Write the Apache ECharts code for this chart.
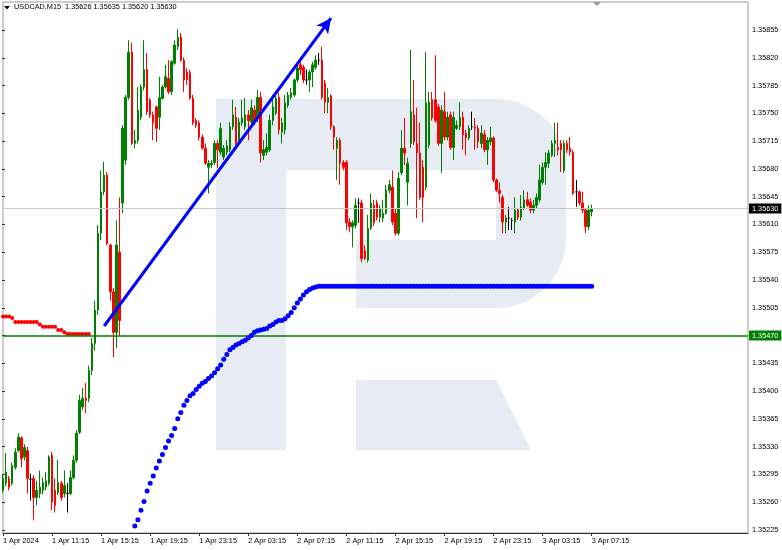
<!DOCTYPE html>
<html><head><meta charset="utf-8">
<script src="https://cdn.jsdelivr.net/npm/echarts@6/dist/echarts.min.js"></script>
<style>html,body{margin:0;padding:0;background:#fff;overflow:hidden}#c{width:782px;height:550px}</style>
</head><body><div id="c"></div>
<script>
// ---------------- data ----------------
const symbolTitle = 'USDCAD,M15';
const lastQuote = [1.35626, 1.35635, 1.35620, 1.35630]; // O H L C of last bar
const timeTickLabels = ['1 Apr 2024','1 Apr 11:15','1 Apr 15:15','1 Apr 19:15','1 Apr 23:15','2 Apr 03:15','2 Apr 07:15','2 Apr 11:15','2 Apr 15:15','2 Apr 19:15','2 Apr 23:15','3 Apr 03:15','3 Apr 07:15'];
const barsPerTimeTick = 16;
const priceAxisMin = 1.35225, priceAxisMax = 1.35855, priceAxisStep = 0.00035;
const viewLow = 1.352212, viewHigh = 1.358902;
const totalSlots = 244;

const opens = [
1.35275,1.35284,1.35290,1.35284,1.35304,1.35325,1.35341,1.35317,1.35325,1.35289,
1.35290,1.35266,1.35271,1.35275,1.35279,1.35284,1.35319,1.35275,1.35272,1.35284,
1.35271,1.35271,1.35271,1.35291,1.35313,1.35348,1.35380,1.35391,1.35391,1.35426,
1.35460,1.35502,1.35599,1.35651,1.35672,1.35584,1.35525,1.35474,1.35575,1.35637,
1.35691,1.35770,1.35827,1.35712,1.35716,1.35745,1.35783,1.35805,1.35767,1.35748,
1.35758,1.35745,1.35769,1.35783,1.35794,1.35777,1.35813,1.35834,1.35846,1.35817,
1.35802,1.35801,1.35769,1.35741,1.35738,1.35720,1.35706,1.35682,1.35685,1.35688,
1.35712,1.35701,1.35695,1.35701,1.35704,1.35733,1.35745,1.35714,1.35738,1.35733,
1.35748,1.35739,1.35754,1.35744,1.35770,1.35697,1.35701,1.35704,1.35741,1.35750,
1.35770,1.35726,1.35729,1.35760,1.35770,1.35773,1.35792,1.35811,1.35808,1.35792,
1.35792,1.35802,1.35808,1.35817,1.35817,1.35788,1.35764,1.35772,1.35733,1.35706,
1.35716,1.35688,1.35688,1.35613,1.35607,1.35609,1.35637,1.35637,1.35577,1.35565,
1.35605,1.35634,1.35637,1.35619,1.35618,1.35624,1.35653,1.35657,1.35624,1.35599,
1.35675,1.35706,1.35663,1.35712,1.35748,1.35712,1.35700,1.35682,1.35657,1.35710,
1.35767,1.35767,1.35758,1.35712,1.35752,1.35720,1.35748,1.35707,1.35731,1.35733,
1.35745,1.35725,1.35719,1.35733,1.35733,1.35731,1.35712,1.35723,1.35704,1.35714,
1.35719,1.35666,1.35653,1.35644,1.35613,1.35618,1.35615,1.35613,1.35628,1.35619,
1.35630,1.35641,1.35638,1.35628,1.35634,1.35641,1.35663,1.35682,1.35687,1.35697,
1.35712,1.35707,1.35712,1.35678,1.35712,1.35706,1.35701,1.35651,1.35651,1.35637,
1.35628,1.35607,1.35626];
const closes = [
1.35290,1.35298,1.35279,1.35306,1.35323,1.35342,1.35315,1.35329,1.35290,1.35289,
1.35266,1.35275,1.35279,1.35285,1.35287,1.35317,1.35260,1.35256,1.35285,1.35266,
1.35281,1.35271,1.35291,1.35313,1.35347,1.35388,1.35391,1.35388,1.35426,1.35460,
1.35502,1.35599,1.35651,1.35672,1.35586,1.35525,1.35474,1.35584,1.35489,1.35731,
1.35770,1.35827,1.35712,1.35716,1.35754,1.35783,1.35805,1.35752,1.35748,1.35738,
1.35731,1.35770,1.35783,1.35796,1.35777,1.35815,1.35836,1.35846,1.35817,1.35792,
1.35792,1.35769,1.35738,1.35735,1.35720,1.35706,1.35687,1.35687,1.35687,1.35712,
1.35704,1.35731,1.35706,1.35709,1.35733,1.35748,1.35712,1.35739,1.35744,1.35748,
1.35741,1.35757,1.35739,1.35770,1.35700,1.35704,1.35707,1.35741,1.35758,1.35769,
1.35729,1.35738,1.35763,1.35773,1.35776,1.35792,1.35807,1.35805,1.35792,1.35792,
1.35802,1.35811,1.35817,1.35817,1.35770,1.35764,1.35770,1.35733,1.35720,1.35716,
1.35687,1.35682,1.35612,1.35607,1.35612,1.35634,1.35637,1.35567,1.35567,1.35605,
1.35637,1.35612,1.35619,1.35630,1.35624,1.35653,1.35660,1.35613,1.35599,1.35668,
1.35706,1.35700,1.35687,1.35752,1.35714,1.35700,1.35644,1.35644,1.35763,1.35764,
1.35744,1.35741,1.35712,1.35754,1.35720,1.35745,1.35707,1.35745,1.35735,1.35745,
1.35723,1.35719,1.35731,1.35733,1.35731,1.35714,1.35725,1.35704,1.35716,1.35719,
1.35666,1.35653,1.35649,1.35613,1.35618,1.35618,1.35615,1.35628,1.35619,1.35632,
1.35641,1.35634,1.35628,1.35634,1.35644,1.35666,1.35682,1.35688,1.35700,1.35712,
1.35716,1.35704,1.35704,1.35712,1.35704,1.35701,1.35649,1.35651,1.35637,1.35628,
1.35607,1.35628,1.35630];
const lows = [
1.35272,1.35280,1.35275,1.35281,1.35301,1.35323,1.35304,1.35313,1.35271,1.35262,
1.35237,1.35256,1.35265,1.35270,1.35275,1.35281,1.35250,1.35247,1.35269,1.35262,
1.35266,1.35247,1.35269,1.35289,1.35310,1.35346,1.35376,1.35372,1.35386,1.35420,
1.35451,1.35496,1.35590,1.35647,1.35584,1.35514,1.35443,1.35454,1.35470,1.35624,
1.35685,1.35767,1.35710,1.35706,1.35712,1.35741,1.35779,1.35748,1.35744,1.35716,
1.35714,1.35729,1.35767,1.35781,1.35774,1.35773,1.35811,1.35830,1.35815,1.35777,
1.35786,1.35767,1.35735,1.35731,1.35716,1.35704,1.35685,1.35649,1.35681,1.35685,
1.35681,1.35697,1.35691,1.35697,1.35701,1.35729,1.35710,1.35709,1.35734,1.35729,
1.35716,1.35735,1.35735,1.35739,1.35688,1.35691,1.35697,1.35701,1.35735,1.35748,
1.35723,1.35712,1.35723,1.35757,1.35767,1.35770,1.35789,1.35798,1.35788,1.35786,
1.35777,1.35783,1.35805,1.35811,1.35767,1.35750,1.35750,1.35729,1.35704,1.35666,
1.35660,1.35678,1.35603,1.35600,1.35581,1.35605,1.35612,1.35562,1.35565,1.35562,
1.35603,1.35608,1.35615,1.35613,1.35613,1.35622,1.35649,1.35609,1.35596,1.35596,
1.35672,1.35685,1.35634,1.35706,1.35710,1.35618,1.35641,1.35613,1.35653,1.35706,
1.35741,1.35738,1.35709,1.35675,1.35716,1.35716,1.35704,1.35691,1.35729,1.35729,
1.35704,1.35697,1.35716,1.35729,1.35704,1.35706,1.35706,1.35701,1.35685,1.35710,
1.35663,1.35651,1.35637,1.35599,1.35599,1.35603,1.35603,1.35599,1.35615,1.35615,
1.35628,1.35632,1.35624,1.35624,1.35630,1.35638,1.35660,1.35660,1.35681,1.35695,
1.35695,1.35697,1.35676,1.35675,1.35700,1.35697,1.35647,1.35632,1.35634,1.35624,
1.35599,1.35603,1.35620];
const highs = [
1.35295,1.35322,1.35293,1.35310,1.35328,1.35347,1.35343,1.35333,1.35330,1.35296,
1.35294,1.35287,1.35300,1.35291,1.35298,1.35319,1.35323,1.35290,1.35313,1.35287,
1.35300,1.35284,1.35300,1.35319,1.35351,1.35395,1.35404,1.35410,1.35432,1.35467,
1.35514,1.35609,1.35678,1.35689,1.35676,1.35586,1.35530,1.35615,1.35644,1.35735,
1.35773,1.35842,1.35839,1.35729,1.35783,1.35786,1.35842,1.35826,1.35769,1.35752,
1.35760,1.35796,1.35786,1.35811,1.35817,1.35817,1.35842,1.35856,1.35851,1.35820,
1.35807,1.35805,1.35773,1.35744,1.35741,1.35723,1.35712,1.35691,1.35691,1.35716,
1.35716,1.35738,1.35710,1.35716,1.35739,1.35767,1.35758,1.35744,1.35767,1.35769,
1.35754,1.35767,1.35760,1.35779,1.35777,1.35716,1.35725,1.35748,1.35773,1.35773,
1.35776,1.35744,1.35773,1.35777,1.35782,1.35794,1.35811,1.35821,1.35811,1.35805,
1.35805,1.35815,1.35823,1.35826,1.35834,1.35792,1.35782,1.35774,1.35735,1.35720,
1.35719,1.35691,1.35691,1.35618,1.35615,1.35643,1.35643,1.35641,1.35584,1.35622,
1.35649,1.35641,1.35641,1.35634,1.35641,1.35660,1.35666,1.35678,1.35630,1.35676,
1.35729,1.35744,1.35694,1.35830,1.35792,1.35757,1.35738,1.35691,1.35827,1.35777,
1.35777,1.35823,1.35762,1.35760,1.35777,1.35752,1.35752,1.35752,1.35741,1.35764,
1.35752,1.35729,1.35735,1.35752,1.35744,1.35735,1.35735,1.35729,1.35720,1.35733,
1.35721,1.35668,1.35663,1.35647,1.35622,1.35632,1.35618,1.35644,1.35630,1.35647,
1.35653,1.35651,1.35643,1.35641,1.35649,1.35685,1.35688,1.35701,1.35704,1.35716,
1.35738,1.35738,1.35716,1.35716,1.35716,1.35720,1.35704,1.35666,1.35653,1.35651,
1.35630,1.35634,1.35635];

// blue dotted indicator, starts at bar 42
const blueDotsStart = 42;
const blueDots = [
1.35221,1.35230,1.35238,1.35250,1.35261,1.35274,1.35284,1.35293,1.35303,1.35312,
1.35320,1.35329,1.35337,1.35344,1.35353,1.35365,1.35373,1.35382,1.35388,1.35394,
1.35397,1.35402,1.35406,1.35410,1.35412,1.35416,1.35419,1.35423,1.35428,1.35433,
1.35440,1.35446,1.35452,1.35455,1.35458,1.35460,1.35462,1.35464,1.35467,1.35470,
1.35474,1.35476,1.35477,1.35478,1.35479,1.35482,1.35484,1.35487,1.35489,1.35489,
1.35491,1.35495,1.35499,1.35505,1.35511,1.35516,1.35521,1.35525,1.35528,1.35530,
1.35531,1.35532,1.35532,1.35532,1.35532,1.35532,1.35532,1.35532,1.35532,1.35532,
1.35532,1.35532,1.35532,1.35532,1.35532,1.35532,1.35532,1.35532,1.35532,1.35532,
1.35532,1.35532,1.35532,1.35532,1.35532,1.35532,1.35532,1.35532,1.35532,1.35532,
1.35532,1.35532,1.35532,1.35532,1.35532,1.35532,1.35532,1.35532,1.35532,1.35532,
1.35532,1.35532,1.35532,1.35532,1.35532,1.35532,1.35532,1.35532,1.35532,1.35532,
1.35532,1.35532,1.35532,1.35532,1.35532,1.35532,1.35532,1.35532,1.35532,1.35532,
1.35532,1.35532,1.35532,1.35532,1.35532,1.35532,1.35532,1.35532,1.35532,1.35532,
1.35532,1.35532,1.35532,1.35532,1.35532,1.35532,1.35532,1.35532,1.35532,1.35532,
1.35532,1.35532,1.35532,1.35532,1.35532,1.35532,1.35532,1.35532,1.35532,1.35532,
1.35532];
// red dotted indicator, bars 0..28
const redDots = [
1.35494,1.35494,1.35494,1.35492,1.35487,1.35487,1.35487,1.35487,1.35487,1.35487,
1.35487,1.35487,1.35484,1.35481,1.35481,1.35481,1.35481,1.35481,1.35477,1.35477,
1.35474,1.35472,1.35472,1.35472,1.35472,1.35472,1.35472,1.35472,1.35472];
const supportLevel = 1.35470;
const trendStart = [33, 1.35482];
const trendEnd = [107, 1.35870];

// ---------------- chart ----------------
const FONT = 'Liberation Sans';
const slots = [];
for (let i = 0; i < totalSlots; i++) slots.push(String(i));
const isTimeTick = (i) => i % barsPerTimeTick === 0 && i / barsPerTimeTick < timeTickLabels.length;

const candleData = opens.map((o, i) => {
  const item = { value: [o, closes[i], lows[i], highs[i]] };
  if (o === closes[i]) item.itemStyle = { color: '#000', color0: '#000', borderColor: '#000', borderColor0: '#000' };
  return item;
});
const blueData = blueDots.map((v, i) => [blueDotsStart + i, v]);
const redData = redDots.map((v, i) => [i, v]);
const currentPrice = lastQuote[3];

// watermark outline (decoration, pixel space)
function arcPts(cx, cy, r, a0, a1, n) {
  const pts = [];
  for (let k = 0; k <= n; k++) { const a = (a0 + (a1 - a0) * k / n) * Math.PI / 180; pts.push([cx + r * Math.cos(a), cy + r * Math.sin(a)]); }
  return pts;
}
const bowlPts = [[286, 99], [496, 99]].concat(arcPts(496, 169, 70, -90, 0, 16)).concat([[566, 238]])
  .concat(arcPts(496, 238, 70, 0, 90, 16)).concat([[356, 308], [356, 240], [496, 240], [496, 170], [286, 170]]);

const chart = echarts.init(document.getElementById('c'), null, { renderer: 'canvas' });

const logoColor = '#e6ebf4';
const boxLabel = (bg, val) => ({ show: true, position: 'end', distance: 1, formatter: () => val.toFixed(5),
  color: '#fff', backgroundColor: bg, padding: [2, 3, 1, 3], fontSize: 7.3, fontFamily: FONT });
const hLine = (val, color, width, labelBg) => [
  { coord: [0, val], symbol: 'none', lineStyle: { color: color, width: width, type: 'solid', opacity: 1 }, label: boxLabel(labelBg, val) },
  { coord: [totalSlots - 1, val], symbol: 'none' }
];
chart.setOption({
  animation: false,
  backgroundColor: '#fff',
  textStyle: { fontFamily: FONT },
  graphic: [
    { type: 'rect', z: 0, silent: true, shape: { x: 216, y: 99, width: 70, height: 351 }, style: { fill: logoColor } },
    { type: 'polygon', z: 0, silent: true, shape: { points: bowlPts }, style: { fill: logoColor } },
    { type: 'polygon', z: 0, silent: true, shape: { points: [[356, 380], [496, 380], [531, 450], [356, 450]] }, style: { fill: logoColor } },
    { type: 'polygon', z: 10, silent: true, shape: { points: [[4, 6], [10, 6], [7, 9.5]] }, style: { fill: '#000' } },
    { type: 'polygon', z: 10, silent: true, shape: { points: [[593, 2], [601, 2], [597, 6]] }, style: { fill: '#9a9a9a' } },
    { type: 'text', z: 10, silent: true, left: 14, top: 3,
      style: { text: symbolTitle + '  ' + lastQuote.map(v => v.toFixed(5)).join(' '), font: '7.3px ' + FONT, fill: '#000' } }
  ],
  grid: [
    { left: 2, right: 34, top: 2, bottom: 17, show: true, borderColor: '#9a9a9a', borderWidth: 1, backgroundColor: 'transparent' },
    { left: 2, right: 34, top: 30, bottom: 20, show: false }
  ],
  xAxis: [
    { type: 'category', gridIndex: 0, data: slots, boundaryGap: false,
      axisLine: { show: true, lineStyle: { color: '#333', width: 1 } },
      axisTick: { show: true, length: 3, interval: (i) => isTimeTick(i), lineStyle: { color: '#333' } },
      axisLabel: { show: true, interval: (i) => isTimeTick(i), align: 'left', margin: 4, fontSize: 7.3, color: '#000', fontFamily: FONT,
        formatter: (v, i) => isTimeTick(i) ? timeTickLabels[i / barsPerTimeTick] : '' },
      splitLine: { show: false } },
    { type: 'value', gridIndex: 1, show: false, min: 0, max: 1 }
  ],
  yAxis: [
    { type: 'value', gridIndex: 0, position: 'right', min: viewLow, max: viewHigh, scale: true,
      axisLine: { show: false }, axisTick: { show: false }, axisLabel: { show: false }, splitLine: { show: false } },
    { type: 'value', gridIndex: 1, position: 'right', min: priceAxisMin, max: priceAxisMax, interval: priceAxisStep,
      axisLine: { show: false }, splitLine: { show: false },
      axisTick: { show: true, length: 3, lineStyle: { color: '#333' } },
      axisLabel: { show: true, margin: 4, fontSize: 7.3, color: '#000', fontFamily: FONT, formatter: (v) => v.toFixed(5) } }
  ],
  series: [
    { type: 'line', xAxisIndex: 1, yAxisIndex: 1, data: [], silent: true },
    { type: 'scatter', name: 'red dots', xAxisIndex: 0, yAxisIndex: 0, data: redData, symbol: 'circle', symbolSize: 4,
      itemStyle: { color: '#ff0000', opacity: 1 }, silent: true, z: 3,
      markLine: { silent: true, symbol: ['none', 'none'], animation: false,
        data: [ hLine(currentPrice, '#c8c8c8', 1, '#000'), hLine(supportLevel, '#008000', 1.5, '#008000') ] } },
    { type: 'candlestick', name: 'USDCAD', xAxisIndex: 0, yAxisIndex: 0, data: candleData, barWidth: 2, z: 4,
      itemStyle: { color: '#008000', color0: '#ff0000', borderColor: '#008000', borderColor0: '#ff0000', borderWidth: 1 },
      markLine: { silent: true, symbol: ['none', 'none'], animation: false, z: 5,
        data: [
          [ { coord: trendStart, symbol: 'none', lineStyle: { color: '#0000ff', width: 3, type: 'solid' }, label: { show: false } },
            { coord: trendEnd, symbol: 'arrow', symbolSize: [11, 15] } ]
        ] } },
    { type: 'scatter', name: 'blue dots', xAxisIndex: 0, yAxisIndex: 0, data: blueData, symbol: 'circle', symbolSize: 5,
      itemStyle: { color: '#0000ff', opacity: 1 }, silent: true, z: 6 }
  ]
});
</script></body></html>
